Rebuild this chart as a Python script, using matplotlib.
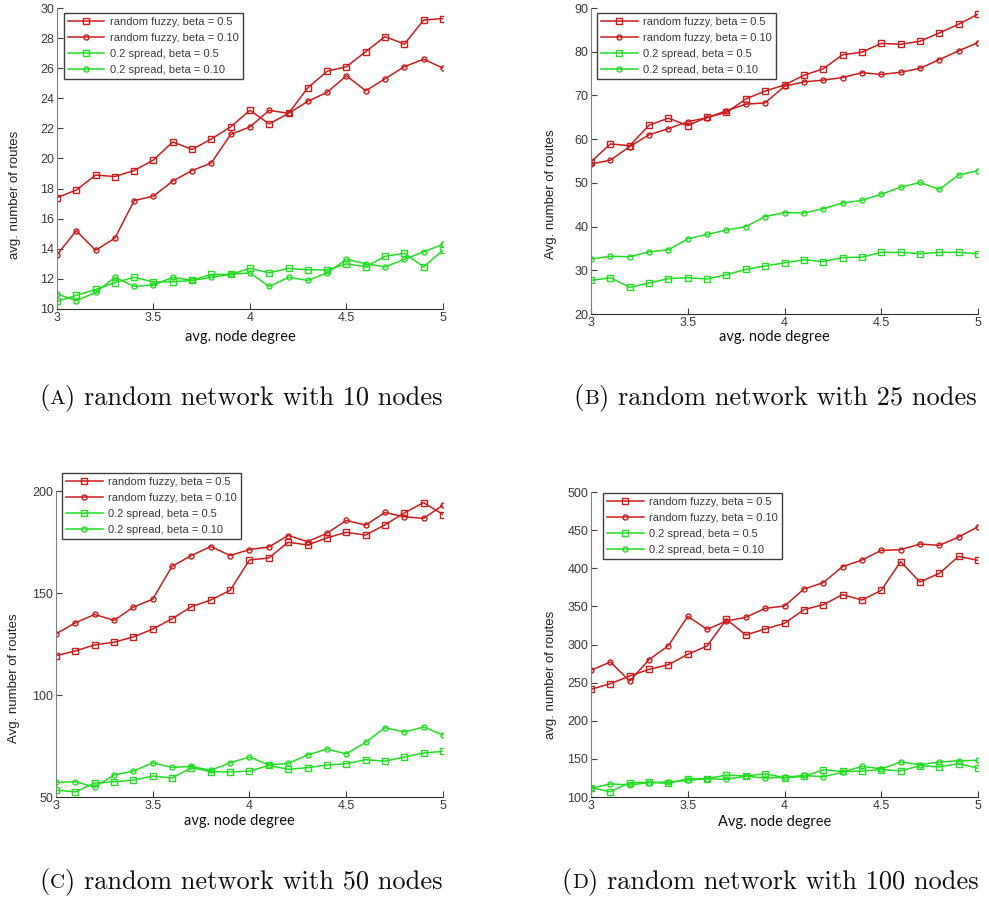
import matplotlib
matplotlib.use("Agg")
import matplotlib.pyplot as plt
import numpy as np

# avg. node degree (shared by all panels)
degree = [3.0, 3.1, 3.2, 3.3, 3.4, 3.5, 3.6, 3.7, 3.8, 3.9, 4.0,
          4.1, 4.2, 4.3, 4.4, 4.5, 4.6, 4.7, 4.8, 4.9, 5.0]

series_labels = ["random fuzzy, beta = 0.5", "random fuzzy, beta = 0.10",
                 "0.2 spread, beta = 0.5", "0.2 spread, beta = 0.10"]

# (A) 10 nodes
a_fuzzy_05 = [17.4, 17.9, 18.9, 18.8, 19.2, 19.9, 21.1, 20.6, 21.3, 22.1, 23.2,
              22.3, 23.0, 24.7, 25.8, 26.1, 27.1, 28.1, 27.6, 29.2, 29.3]
a_fuzzy_010 = [13.6, 15.2, 13.9, 14.7, 17.2, 17.5, 18.5, 19.2, 19.7, 21.6, 22.1,
               23.2, 23.0, 23.8, 24.4, 25.5, 24.5, 25.3, 26.1, 26.6, 26.0]
a_spread_05 = [10.5, 10.9, 11.3, 11.75, 12.1, 11.8, 11.8, 11.9, 12.3, 12.3, 12.7,
               12.4, 12.7, 12.6, 12.6, 13.0, 12.8, 13.5, 13.7, 12.8, 13.9]
a_spread_010 = [11.0, 10.55, 11.1, 12.1, 11.5, 11.6, 12.1, 11.9, 12.1, 12.3, 12.4,
                11.5, 12.1, 11.9, 12.4, 13.3, 13.0, 12.8, 13.3, 13.8, 14.3]

# (B) 25 nodes
b_fuzzy_05 = [54.8, 58.9, 58.5, 63.2, 64.8, 63.1, 65.0, 66.1, 69.2, 71.0, 72.4,
              74.6, 76.1, 79.3, 79.9, 81.9, 81.7, 82.4, 84.3, 86.3, 88.6]
b_fuzzy_010 = [54.3, 55.2, 58.3, 61.0, 62.4, 64.0, 64.9, 66.5, 68.0, 68.3, 72.1,
               73.1, 73.5, 74.1, 75.2, 74.8, 75.3, 76.2, 78.2, 80.2, 82.1]
b_spread_05 = [27.7, 28.3, 26.1, 27.1, 28.1, 28.3, 28.0, 29.0, 30.2, 31.0, 31.7,
               32.4, 32.0, 32.9, 33.0, 34.1, 34.1, 33.8, 34.1, 34.1, 33.8]
b_spread_010 = [32.6, 33.2, 33.1, 34.2, 34.7, 37.2, 38.2, 39.2, 40.0, 42.3, 43.2,
                43.1, 44.1, 45.4, 46.0, 47.4, 49.0, 50.1, 48.5, 51.8, 52.8]

# (C) 50 nodes
c_fuzzy_05 = [119.3, 121.6, 124.6, 125.9, 128.5, 132.3, 137.4, 143.3, 146.6, 151.3, 166.2,
              167.2, 174.9, 173.6, 177.0, 179.8, 178.4, 183.4, 189.3, 194.3, 188.5]
c_fuzzy_010 = [130.0, 135.4, 139.5, 136.6, 143.1, 147.0, 163.1, 168.4, 172.8, 168.4, 171.3,
               172.6, 178.2, 175.2, 179.3, 185.6, 183.3, 189.5, 187.4, 186.6, 193.1]
c_spread_05 = [53.4, 52.5, 56.9, 57.5, 58.3, 60.3, 59.3, 64.4, 62.4, 62.3, 62.7,
               65.5, 63.6, 64.4, 65.7, 66.3, 68.3, 67.6, 69.6, 71.6, 72.4]
c_spread_010 = [57.2, 57.5, 54.9, 60.8, 62.7, 66.8, 64.5, 65.0, 63.1, 66.8, 69.6,
                65.7, 66.5, 70.6, 73.5, 71.2, 76.8, 84.0, 81.9, 84.3, 80.4]

# (D) 100 nodes
d_fuzzy_05 = [241.3, 248.7, 258.7, 267.5, 273.6, 287.2, 298.1, 333.0, 312.5, 320.4, 327.8,
              345.7, 352.3, 365.4, 358.4, 371.1, 408.7, 382.0, 393.4, 415.6, 410.4]
d_fuzzy_010 = [266.2, 277.1, 252.2, 280.2, 298.5, 337.0, 319.9, 330.9, 335.7, 347.5, 350.5,
               372.8, 381.1, 402.1, 410.8, 423.5, 424.4, 431.8, 430.1, 441.0, 454.5]
d_spread_05 = [112.4, 106.9, 118.9, 119.3, 118.0, 124.0, 124.0, 128.8, 127.5, 130.5, 125.3,
               127.0, 135.6, 133.5, 133.9, 136.1, 134.3, 141.2, 139.5, 143.8, 137.8]
d_spread_010 = [111.6, 117.2, 115.9, 118.9, 119.7, 121.9, 124.0, 123.2, 127.5, 124.9, 125.8,
                128.3, 126.6, 132.6, 140.3, 136.9, 145.9, 142.5, 145.9, 147.6, 148.1]

x_ticks = [3, 3.5, 4, 4.5, 5]
x_ticklabels = ["3", "3.5", "4", "4.5", "5"]

panel_letters = ["A", "B", "C", "D"]
panel_nodes = [10, 25, 50, 100]

RED = "#cc1c1c"
GREEN = "#22dd22"
GREY = "#3a3a3a"

fig = plt.figure(figsize=(9.89, 9.0), dpi=100)


def draw_panel(rect, data, yticks, ylim, ylabel, ylabel_pos, xlabel, xlabel_pos, legend_pos):
    ax = fig.add_axes(rect)
    styles = [(RED, "s", 5.0), (RED, "o", 3.6), (GREEN, "s", 5.0), (GREEN, "o", 3.6)]
    for ys, lab, (c, m, ms) in zip(data, series_labels, styles):
        ax.plot(degree, ys, color=c, marker=m, markersize=ms, markerfacecolor="none",
                markeredgecolor=c, markeredgewidth=1.0, linewidth=1.1, label=lab)
    ax.set_xlim(3, 5)
    ax.set_ylim(*ylim)
    ax.set_xticks(x_ticks)
    ax.set_xticklabels(x_ticklabels)
    ax.set_yticks(yticks)
    ax.spines["top"].set_visible(False)
    ax.spines["right"].set_visible(False)
    ax.spines["left"].set_color("#808080")
    ax.spines["bottom"].set_color("#303030")
    ax.tick_params(direction="in", length=4, width=0.8, colors="#404040",
                   labelsize=9, pad=2)
    for t in ax.get_xticklabels() + ax.get_yticklabels():
        t.set_family("Liberation Sans")
        t.set_color(GREY)
    ax.set_ylabel(ylabel, family="Liberation Sans", fontsize=9.5, color="#222222")
    ax.yaxis.set_label_coords(*ylabel_pos)
    ax.set_xlabel(xlabel, family="Lato", fontsize=10.5, color="#111111")
    ax.xaxis.set_label_coords(*xlabel_pos)
    leg = ax.legend(loc="upper left", bbox_to_anchor=legend_pos, fancybox=False,
                    framealpha=1, edgecolor="#404040", handlelength=3.3,
                    handletextpad=0.5, borderpad=0.35, labelspacing=0.55,
                    borderaxespad=0, prop={"family": "Liberation Sans", "size": 8})
    leg.get_frame().set_linewidth(1.0)
    for t in leg.get_texts():
        t.set_color(GREY)
    return ax


draw_panel([0.0576, 0.6567, 0.3903, 0.3344],
           [a_fuzzy_05, a_fuzzy_010, a_spread_05, a_spread_010],
           np.arange(10, 31, 2), (10, 30), "avg. number of routes", (-0.093, 0.38),
           "avg. node degree", (0.474, -0.07), (0.018, 0.983))

draw_panel([0.5976, 0.6511, 0.3913, 0.3400],
           [b_fuzzy_05, b_fuzzy_010, b_spread_05, b_spread_010],
           np.arange(20, 91, 10), (20, 90), "Avg. number of routes", (-0.088, 0.39),
           "avg. node degree", (0.474, -0.052), (0.016, 0.984))

draw_panel([0.0566, 0.1144, 0.3913, 0.3400],
           [c_fuzzy_05, c_fuzzy_010, c_spread_05, c_spread_010],
           [50, 100, 150, 200], (50, 200), "Avg. number of routes", (-0.093, 0.39),
           "avg. node degree", (0.474, -0.056), (0.016, 1.059))

draw_panel([0.5976, 0.1144, 0.3913, 0.3389],
           [d_fuzzy_05, d_fuzzy_010, d_spread_05, d_spread_010],
           np.arange(100, 501, 50), (100, 500), "avg. number of routes", (-0.088, 0.40),
           "Avg. node degree", (0.474, -0.059), (0.031, 0.997))

# captions in serif, with small-caps panel letters
caption_xy = [(241, 398), (775, 398), (241, 882), (770, 882)]
fig.canvas.draw()
renderer = fig.canvas.get_renderer()
for letter, nodes, (cx, cy) in zip(panel_letters, panel_nodes, caption_xy):
    parts = [("(", 19), (letter, 15), (") random network with %d nodes" % nodes, 19)]
    texts = [fig.text(0, 1 - cy / 900, s, family="cmr10", fontsize=fs, ha="left",
                      va="baseline", color="#111111") for s, fs in parts]
    widths = [t.get_window_extent(renderer).width for t in texts]
    x = cx - sum(widths) / 2
    for t, w in zip(texts, widths):
        t.set_x(x / 989)
        t.set_y(1 - (cy + 6) / 900)
        x += w

fig.savefig("out.png", dpi=100, facecolor="white")
